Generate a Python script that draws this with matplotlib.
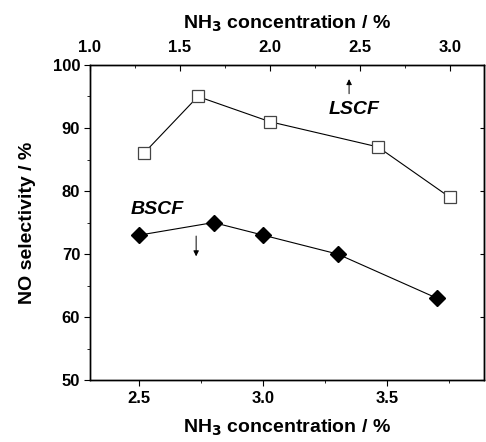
import matplotlib.pyplot as plt
from matplotlib.ticker import MultipleLocator

plt.rcParams['font.family'] = ['Liberation Sans', 'DejaVu Sans']
plt.rcParams['font.weight'] = 'bold'

# BSCF - eixo inferior
nh3_bscf = [2.5, 2.8, 3.0, 3.3, 3.7]
sel_bscf = [73, 75, 73, 70, 63]

# LSCF - eixo superior
nh3_lscf = [1.3, 1.6, 2.0, 2.6, 3.0]
sel_lscf = [86, 95, 91, 87, 79]

fig = plt.figure(figsize=(4.86, 4.42), dpi=100)
ax = fig.add_axes([0.185, 0.140, 0.811, 0.713])

ax.plot(nh3_bscf, sel_bscf, color='black', lw=0.8, marker='D', ms=8.5,
        mfc='black', mec='black')
ax.set_xlim(2.302, 3.89)
ax.set_ylim(50, 100)
ax.xaxis.set_major_locator(MultipleLocator(0.5))
ax.xaxis.set_minor_locator(MultipleLocator(0.25))
ax.yaxis.set_major_locator(MultipleLocator(10))
ax.yaxis.set_minor_locator(MultipleLocator(5))
ax.tick_params(axis='x', which='both', direction='out', top=False, labelsize=12, pad=4)
ax.tick_params(axis='y', which='both', direction='out', labelsize=12, pad=3)
ax.tick_params(which='major', length=4)
ax.tick_params(which='minor', length=2.5)
ax.set_xlabel('NH$_3$ concentration / %', fontsize=14, fontweight='bold', labelpad=8)
ax.set_ylabel('NO selectivity / %', fontsize=14, fontweight='bold', labelpad=12)

# ticks internos no eixo direito
axr = ax.secondary_yaxis('right')
axr.yaxis.set_major_locator(MultipleLocator(10))
axr.tick_params(direction='in', length=3, labelright=False)

ax2 = ax.twiny()
ax2.plot(nh3_lscf, sel_lscf, color='black', lw=0.8, marker='s', ms=8.5,
         mfc='white', mec='#444444', mew=0.9)
ax2.set_xlim(1.0, 3.19)
ax2.xaxis.set_major_locator(MultipleLocator(0.5))
ax2.xaxis.set_minor_locator(MultipleLocator(0.25))
ax2.tick_params(axis='x', which='both', direction='in', labelsize=12, pad=7)
ax2.tick_params(which='major', length=4)
ax2.tick_params(which='minor', length=2.5)
ax2.set_xlabel('NH$_3$ concentration / %', fontsize=14, fontweight='bold', labelpad=8)

for a in (ax, ax2):
    for s in a.spines.values():
        s.set_linewidth(1.0)

ax2.annotate('', xy=(2.44, 98.2), xytext=(2.44, 95.0),
             arrowprops=dict(arrowstyle='-|>', color='black', lw=0.7,
                             mutation_scale=8))
ax2.text(2.47, 92.9, 'LSCF', fontsize=14, fontweight='bold', style='italic',
         ha='center', va='center')
ax.annotate('', xy=(2.73, 69.2), xytext=(2.73, 73.3),
            arrowprops=dict(arrowstyle='-|>', color='black', lw=0.7,
                            mutation_scale=8))
ax.text(2.575, 77.0, 'BSCF', fontsize=14, fontweight='bold', style='italic',
        ha='center', va='center')

fig.savefig('out.png', dpi=100)
